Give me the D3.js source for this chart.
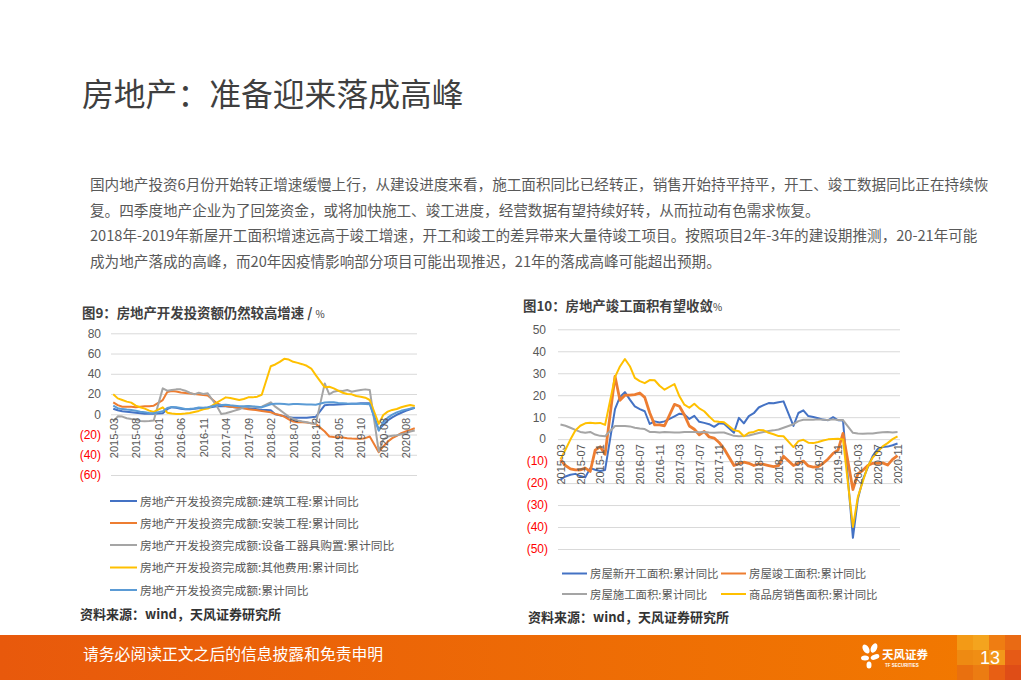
<!DOCTYPE html>
<html>
<head>
<meta charset="utf-8">
<script src="https://cdn.jsdelivr.net/npm/d3@7"></script>
<style>
  body { margin: 0; background: #fff; }
  svg { display: block; }
</style>
</head>
<body>
<svg id="page" width="1021" height="680"></svg>
<script>
// ---- data ----
const leftMonths = d3.timeMonths(new Date(2015, 2, 1), new Date(2020, 10, 1)).map(d3.timeFormat('%Y-%m'));
const rightMonths = d3.timeMonths(new Date(2015, 2, 1), new Date(2020, 11, 1)).map(d3.timeFormat('%Y-%m'));

const leftTickLabels = ['2015-03', '2015-08', '2016-01', '2016-06', '2016-11', '2017-04', '2017-09',
  '2018-02', '2018-07', '2018-12', '2019-05', '2019-10', '2020-03', '2020-08'];
const rightTickLabels = ['2015-03', '2015-07', '2015-11', '2016-03', '2016-07', '2016-11', '2017-03',
  '2017-07', '2017-11', '2018-03', '2018-07', '2018-11', '2019-03', '2019-07', '2019-11', '2020-03',
  '2020-07', '2020-11'];

const leftYTicks = [80, 60, 40, 20, 0, -20, -40, -60];
const rightYTicks = [50, 40, 30, 20, 10, 0, -10, -20, -30, -40, -50];

// 图9 (January is not published, left as null)
const invBuild = [5.5, 4, 3, 2.5, 2, 1.5, 1, 0.5, 0.5, 0.5,
  null, 1, 5, 7, 6.5, 5.5, 5, 5, 5.5, 6, 6, 6.5,
  null, 8, 8, 8, 7.5, 7, 6.5, 6, 6, 5.5, 5, 4.5,
  null, 4, 0, -1, -2, -3, -3.5, -3.5, -3.5, -3.5, -3, -2.5,
  null, 9, 9.3, 9.5, 9.7, 10, 10.2, 10.4, 10.5, 10.8, 11, 11,
  null, -15.5, -10.5, -6, -3, -0.5, 1.5, 3.5, 5, 6.5];
const invInstall = [11.8, 9, 7.5, 7.5, 7.5, 7, 7.5, 8, 8, 8.5,
  null, 14, 22, 23, 22.5, 21.5, 21, 20.5, 20, 19.5, 19, 18.5,
  null, 10.8, 9.2, 8.2, 7.5, 7, 6.5, 6, 5, 4.5, 4, 3.3,
  null, 2, 0.3, -0.7, -2.3, -5, -7.2, -7.9, -8, -8.2, -9, -9.5,
  null, -17, -22, -22.5, -22.6, -23, -23.6, -24, -24.3, -24.3, -23.6, -22,
  null, -37.4, -31.8, -27, -23.6, -21.3, -18.7, -17, -15.4, -13.8];
const invEquip = [-7.2, -2, -2.3, -3.9, -4.6, -4.9, -6.6, -6.9, -6.6, -6.2,
  null, 25.6, 23.3, 24, 24.6, 24.6, 23.3, 21.3, 19.7, 21.3, 20, 20.7,
  null, 8.2, 0.3, 1, 2.3, 3.6, 4.9, 6.9, 8.2, 7.5, 6.9, 7.5,
  null, 11.8, 7.5, 4.3, 1, -2.3, -4.6, -6.2, -7.2, -7.9, -8.9, -9.5,
  null, 30.5, 19.7, 22.3, 23.3, 23, 24, 22.3, 23.3, 24, 24.6, 24,
  null, -36.7, -25.2, -22, -21.3, -20.7, -19.7, -18.7, -17, -16];
const invOther = [19.7, 15.7, 14.1, 12.5, 11.5, 8.5, 6.9, 5.6, 3.6, 2.3,
  null, 6.9, 1.6, 0.7, 0.3, 0.3, 0.7, 1.3, 2.3, 3.3, 4.9, 5.6,
  null, 11.5, 14.1, 16.7, 16, 15.1, 14.1, 15.1, 16.7, 16.7, 17.4, 19.3,
  null, 47.5, 49.2, 51.8, 54.8, 54.1, 51.8, 50.8, 49.5, 47.9, 45.2, 38.7,
  null, 26.6, 27.2, 25.6, 23.3, 21.3, 20, 19.7, 18, 17.4, 16.4, 14.1,
  null, -9.5, -0.7, 2.6, 4.3, 5.2, 6.9, 8.2, 9.2, 8.2];
const invTotal = [8.5, 6.0, 5.1, 4.6, 4.3, 3.5, 2.6, 2.0, 1.3, 1.0,
  null, 3.0, 6.2, 7.2, 7.0, 6.1, 5.3, 5.4, 5.8, 6.6, 6.5, 6.9,
  null, 8.9, 9.1, 9.3, 8.8, 8.5, 7.9, 7.9, 8.1, 7.8, 7.5, 7.0,
  null, 9.9, 10.4, 10.3, 10.2, 9.7, 10.2, 10.1, 9.9, 9.7, 9.7, 9.5,
  null, 11.6, 11.8, 11.9, 11.2, 10.9, 10.6, 10.5, 10.5, 10.3, 10.2, 9.9,
  null, -16.3, -7.7, -3.3, -0.3, 1.9, 3.4, 4.6, 5.6, 6.3];

// 图10
const areaNewStart = [-18.4, -17.0, -16.2, -15.8, -16.8, -17.4, -13.2, -13.9, -14.5, -14.0,
  null, 13.7, 19.2, 21.4, 18.0, 14.9, 13.7, 12.7, 6.9, 8.1, 7.6, 8.1,
  null, 10.4, 11.6, 11.2, 9.2, 10.6, 7.9, 7.4, 6.8, 5.6, 7.2, 7.0,
  null, 2.9, 9.7, 7.2, 10.5, 11.8, 14.4, 15.5, 16.4, 16.3, 16.8, 17.2,
  null, 6.0, 11.9, 13.1, 10.5, 10.1, 9.5, 8.9, 8.6, 10.0, 8.6, 8.5,
  null, -44.9, -27.2, -18.4, -12.8, -7.6, -4.5, -3.6, -3.4, -2.8, -2.0];
const areaCompleted = [-9.4, -12, -13.5, -14, -14, -13.2, -14.7, -5, -3.5, -6.9,
  null, 28.6, 17.7, 20, 20, 20.3, 21, 19, 12, 6.5, 6.5, 6.1,
  null, 15.8, 15, 11, 6, 4.5, 2, 3.5, 1, 0.5, -1.5, -4.4,
  null, -12, -11.2, -10.5, -11, -12, -11.3, -11.5, -12, -12.5, -12, -7.8,
  null, -12, -11, -10, -12.2, -12.7, -12.5, -11, -9, -6.5, -5, 2.6,
  null, -22.9, -15.8, -14.2, -12, -11, -11, -10.8, -11.8, -9.2, -7.5];
const areaUnderway = [6.7, 6.1, 5.2, 4.2, 3.3, 2.9, 3.3, 2.1, 1.5, 1.3,
  null, 6.0, 6.0, 6.0, 5.8, 5.2, 4.8, 4.6, 3.3, 3.3, 3.0, 3.2,
  null, 3.0, 3.0, 3.2, 3.2, 3.2, 3.1, 3.2, 3.0, 2.9, 3.0, 3.0,
  null, 1.5, 1.3, 1.4, 1.7, 2.2, 2.8, 3.3, 3.7, 4.0, 4.4, 5.2,
  null, 6.8, 8.2, 8.8, 8.8, 8.8, 9.0, 8.8, 8.7, 9.0, 8.7, 8.7,
  null, 2.9, 2.6, 2.5, 2.6, 2.6, 2.9, 3.1, 3.2, 3.0, 3.2];
const areaSold = [-9.2, -4.8, -0.2, 3.9, 6.1, 7.2, 7.5, 7.2, 7.4, 6.5,
  null, 28.2, 33.1, 36.5, 33.2, 27.9, 26.4, 25.5, 26.9, 26.8, 24.3, 22.5,
  null, 25.1, 19.5, 15.7, 14.3, 16.1, 14.0, 12.7, 10.3, 8.2, 7.9, 7.7,
  null, 4.1, 3.6, 1.3, 2.9, 3.3, 4.2, 4.0, 2.9, 2.2, 1.4, 1.3,
  null, -3.6, -0.9, -0.3, -1.6, -1.8, -1.3, -0.6, -0.1, 0.1, 0.2, -0.1,
  null, -39.9, -26.3, -19.3, -12.3, -8.4, -5.8, -3.3, -1.8, 0, 1.3];

const bodyLines = [
  '国内地产投资6月份开始转正增速缓慢上行，从建设进度来看，施工面积同比已经转正，销售开始持平持平，开工、竣工数据同比正在持续恢',
  '复。四季度地产企业为了回笼资金，或将加快施工、竣工进度，经营数据有望持续好转，从而拉动有色需求恢复。',
  '2018年-2019年新屋开工面积增速远高于竣工增速，开工和竣工的差异带来大量待竣工项目。按照项目2年-3年的建设期推测，20-21年可能',
  '成为地产落成的高峰，而20年因疫情影响部分项目可能出现推迟，21年的落成高峰可能超出预期。'
];

// ---- drawing ----
const CJK = '"Microsoft YaHei","Noto Sans CJK SC",sans-serif';
const NUM = '"Liberation Sans",Arial,"Noto Sans CJK SC",sans-serif';
const svg = d3.select('#page');

svg.append('text')
    .attr('x', 82).attr('y', 106)
    .attr('font-family', CJK).attr('font-size', 31.8).attr('fill', '#3f3f3f')
    .text('房地产：准备迎来落成高峰');

svg.append('g').selectAll('text')
    .data(bodyLines)
    .join('text')
    .attr('x', 90)
    .attr('y', (d, i) => [190, 215.5, 241, 267][i])
    .attr('font-family', CJK).attr('font-size', 14.6).attr('fill', '#595959')
    .text(d => d);

function drawChart(cfg) {
  const g = svg.append('g');
  const x = d3.scalePoint().domain(cfg.months).range([cfg.x0, cfg.x1]).padding(0.5);
  const y = d3.scaleLinear().domain(cfg.domain).range([cfg.yBottom, cfg.yTop]);

  // title
  const title = g.append('text')
      .attr('x', cfg.titleX).attr('y', cfg.titleY)
      .attr('font-family', CJK).attr('font-size', 13.4).attr('font-weight', 'bold')
      .attr('fill', '#404040')
      .text(cfg.title);
  title.append('tspan').attr('font-size', 10).attr('font-weight', 'normal').text(cfg.unit);

  // y axis + gridlines
  const yAxis = d3.axisLeft(y)
      .tickValues(cfg.yTicks)
      .tickSize(-(cfg.x1 - cfg.x0))
      .tickPadding(cfg.x0 - cfg.labelRight)
      .tickFormat(d => d < 0 ? `(${-d})` : d);
  const ya = g.append('g').attr('transform', `translate(${cfg.x0},0)`).call(yAxis);
  ya.select('.domain').remove();
  ya.selectAll('.tick line').attr('stroke', '#d9d9d9').attr('stroke-width', 1);
  ya.selectAll('.tick text')
      .attr('font-family', NUM).attr('font-size', 12)
      .attr('fill', d => d < 0 ? '#ff0000' : '#595959')
      .attr('dx', d => d < 0 ? 0 : cfg.posShift);

  // series
  const line = d3.line().x(d => x(d.m)).y(d => y(d.v));
  cfg.series.forEach(s => {
    const pts = cfg.months.map((m, i) => ({m, v: s.values[i]})).filter(d => d.v != null);
    g.append('path')
        .attr('d', line(pts))
        .attr('fill', 'none')
        .attr('stroke', s.color)
        .attr('stroke-width', s.width)
        .attr('stroke-linejoin', 'round');
  });

  // x axis labels at y=0, rotated
  const xAxis = d3.axisBottom(x).tickValues(cfg.xTicks).tickSize(0);
  const xa = g.append('g').attr('transform', `translate(0,${y(0)})`).call(xAxis);
  xa.select('.domain').remove();
  xa.selectAll('.tick text')
      .attr('font-family', NUM).attr('font-size', 11).attr('fill', '#595959')
      .attr('text-anchor', 'end')
      .attr('transform', 'rotate(-90)')
      .attr('x', -cfg.labelGap).attr('y', 0).attr('dy', '0.35em');

  // legend
  const lg = g.append('g').selectAll('g')
      .data(cfg.series)
      .join('g')
      .attr('transform', (d, i) => `translate(${cfg.legendPos[i][0]},${cfg.legendPos[i][1]})`);
  lg.append('line')
      .attr('x1', 0).attr('x2', cfg.legendLine)
      .attr('stroke', d => d.color).attr('stroke-width', 2);
  lg.append('text')
      .attr('x', cfg.legendLine + 3).attr('y', 4.5)
      .attr('font-family', CJK).attr('font-size', cfg.legendFont).attr('fill', '#595959')
      .text(d => d.name);

  // source
  g.append('text')
      .attr('x', cfg.sourcePos[0]).attr('y', cfg.sourcePos[1])
      .attr('font-family', CJK).attr('font-size', 13).attr('font-weight', 'bold')
      .attr('fill', '#333')
      .text('资料来源：wind，天风证券研究所');
}

drawChart({
  title: '图9：房地产开发投资额仍然较高增速 / ', unit: '%', titleX: 82, titleY: 318,
  months: leftMonths, xTicks: leftTickLabels, yTicks: leftYTicks,
  x0: 111, x1: 417, domain: [-60, 80], yBottom: 475, yTop: 333.3,
  labelRight: 101, posShift: 0, labelGap: 3.5,
  series: [
    {name: '房地产开发投资完成额:建筑工程:累计同比', values: invBuild, color: '#4472c4', width: 2},
    {name: '房地产开发投资完成额:安装工程:累计同比', values: invInstall, color: '#ed7d31', width: 2},
    {name: '房地产开发投资完成额:设备工器具购置:累计同比', values: invEquip, color: '#a5a5a5', width: 2},
    {name: '房地产开发投资完成额:其他费用:累计同比', values: invOther, color: '#ffc000', width: 2},
    {name: '房地产开发投资完成额:累计同比', values: invTotal, color: '#5b9bd5', width: 2}
  ],
  legendLine: 27, legendFont: 11.8,
  legendPos: [[110, 501], [110, 523], [110, 545], [110, 567.5], [110, 590]],
  sourcePos: [80, 619]
});

drawChart({
  title: '图10：房地产竣工面积有望收敛', unit: '%', titleX: 523, titleY: 311,
  months: rightMonths, xTicks: rightTickLabels, yTicks: rightYTicks,
  x0: 558, x1: 900, domain: [-50, 50], yBottom: 549, yTop: 329.3,
  labelRight: 548, posShift: -2, labelGap: 5,
  series: [
    {name: '房屋新开工面积:累计同比', values: areaNewStart, color: '#4472c4', width: 2},
    {name: '房屋竣工面积:累计同比', values: areaCompleted, color: '#ed7d31', width: 2.8},
    {name: '房屋施工面积:累计同比', values: areaUnderway, color: '#a5a5a5', width: 2},
    {name: '商品房销售面积:累计同比', values: areaSold, color: '#ffc000', width: 2}
  ],
  legendLine: 25, legendFont: 11.4,
  legendPos: [[562, 573.5], [721, 573.5], [562, 594], [721, 594]],
  sourcePos: [528, 622]
});

// ---- footer ----
const defs = svg.append('defs');
const grad = defs.append('linearGradient').attr('id', 'footGrad');
grad.append('stop').attr('offset', '0%').attr('stop-color', '#e8590c');
grad.append('stop').attr('offset', '100%').attr('stop-color', '#f27a00');
svg.append('rect').attr('x', 0).attr('y', 635).attr('width', 1021).attr('height', 45).attr('fill', 'url(#footGrad)');

const tileColors = [
  ['#f39a16', '#f4a41e', '#ef7d12', '#e96a14'],
  ['#ee8a12', '#f08e14', '#f3981a', '#e65a16'],
  ['#e9700f', '#ec7c12', '#e85f14', '#df4d17']
];
tileColors.forEach((row, r) => row.forEach((c, k) => {
  svg.append('rect')
      .attr('x', 957 + k * 16).attr('y', 635 + r * 15)
      .attr('width', 16).attr('height', 15).attr('fill', c);
}));
svg.append('text')
    .attr('x', 990).attr('y', 664).attr('text-anchor', 'middle')
    .attr('font-family', NUM).attr('font-size', 18).attr('fill', '#fff')
    .text('13');

svg.append('text')
    .attr('x', 83).attr('y', 660)
    .attr('font-family', CJK).attr('font-size', 15.8).attr('fill', '#fff')
    .text('请务必阅读正文之后的信息披露和免责申明');

// logo
const logo = svg.append('g').attr('fill', '#fff');
logo.append('ellipse').attr('cx', 866).attr('cy', 649).attr('rx', 3).attr('ry', 5).attr('transform', 'rotate(-30,866,649)');
logo.append('ellipse').attr('cx', 874).attr('cy', 648).attr('rx', 3).attr('ry', 5).attr('transform', 'rotate(25,874,648)');
logo.append('ellipse').attr('cx', 865).attr('cy', 658).attr('rx', 4).attr('ry', 2.5);
logo.append('ellipse').attr('cx', 875).attr('cy', 657).attr('rx', 4.5).attr('ry', 2.5).attr('transform', 'rotate(-20,875,657)');
logo.append('ellipse').attr('cx', 869).attr('cy', 665).attr('rx', 2.5).attr('ry', 3.5);
svg.append('text')
    .attr('x', 882).attr('y', 659)
    .attr('font-family', CJK).attr('font-size', 11.5).attr('font-weight', 'bold').attr('fill', '#fff')
    .text('天风证券');
svg.append('text')
    .attr('x', 885).attr('y', 667)
    .attr('font-family', NUM).attr('font-size', 4.5).attr('font-weight', 'bold').attr('fill', '#fff')
    .text('TF SECURITIES');
</script>
</body>
</html>
